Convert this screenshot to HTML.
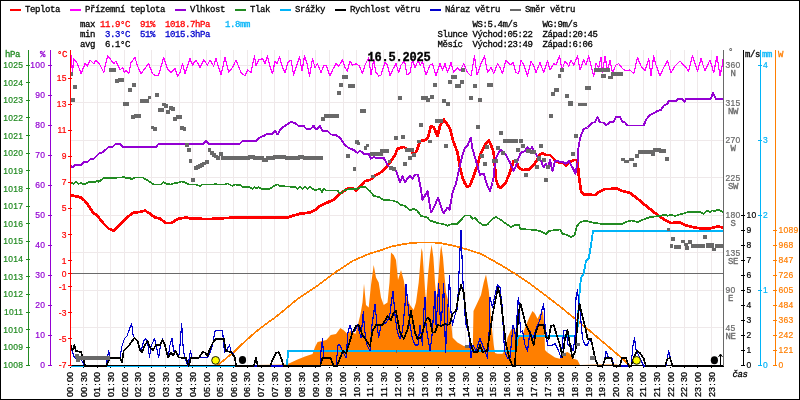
<!DOCTYPE html>
<html><head><meta charset="utf-8"><title>graf</title>
<style>html,body{margin:0;padding:0;background:#fff}svg{display:block}text{font-family:"Liberation Mono",monospace}</style></head>
<body>
<svg width="800" height="400" viewBox="0 0 800 400">
<rect x="0" y="0" width="800" height="400" fill="#fff"/>
<rect x="0.5" y="0.5" width="799" height="399" fill="none" stroke="#000" stroke-width="1" shape-rendering="crispEdges"/>
<g stroke="#efe9ea" stroke-width="1" shape-rendering="crispEdges">
<line x1="83.5" y1="50" x2="83.5" y2="365"/>
<line x1="97.5" y1="50" x2="97.5" y2="365"/>
<line x1="110.5" y1="50" x2="110.5" y2="365"/>
<line x1="124.5" y1="50" x2="124.5" y2="365"/>
<line x1="138.5" y1="50" x2="138.5" y2="365"/>
<line x1="151.5" y1="50" x2="151.5" y2="365"/>
<line x1="165.5" y1="50" x2="165.5" y2="365"/>
<line x1="179.5" y1="50" x2="179.5" y2="365"/>
<line x1="192.5" y1="50" x2="192.5" y2="365"/>
<line x1="206.5" y1="50" x2="206.5" y2="365"/>
<line x1="220.5" y1="50" x2="220.5" y2="365"/>
<line x1="233.5" y1="50" x2="233.5" y2="365"/>
<line x1="247.5" y1="50" x2="247.5" y2="365"/>
<line x1="261.5" y1="50" x2="261.5" y2="365"/>
<line x1="274.5" y1="50" x2="274.5" y2="365"/>
<line x1="288.5" y1="50" x2="288.5" y2="365"/>
<line x1="302.5" y1="50" x2="302.5" y2="365"/>
<line x1="315.5" y1="50" x2="315.5" y2="365"/>
<line x1="329.5" y1="50" x2="329.5" y2="365"/>
<line x1="343.5" y1="50" x2="343.5" y2="365"/>
<line x1="356.5" y1="50" x2="356.5" y2="365"/>
<line x1="370.5" y1="50" x2="370.5" y2="365"/>
<line x1="383.5" y1="50" x2="383.5" y2="365"/>
<line x1="397.5" y1="50" x2="397.5" y2="365"/>
<line x1="411.5" y1="50" x2="411.5" y2="365"/>
<line x1="424.5" y1="50" x2="424.5" y2="365"/>
<line x1="438.5" y1="50" x2="438.5" y2="365"/>
<line x1="452.5" y1="50" x2="452.5" y2="365"/>
<line x1="465.5" y1="50" x2="465.5" y2="365"/>
<line x1="479.5" y1="50" x2="479.5" y2="365"/>
<line x1="493.5" y1="50" x2="493.5" y2="365"/>
<line x1="506.5" y1="50" x2="506.5" y2="365"/>
<line x1="520.5" y1="50" x2="520.5" y2="365"/>
<line x1="534.5" y1="50" x2="534.5" y2="365"/>
<line x1="547.5" y1="50" x2="547.5" y2="365"/>
<line x1="561.5" y1="50" x2="561.5" y2="365"/>
<line x1="575.5" y1="50" x2="575.5" y2="365"/>
<line x1="588.5" y1="50" x2="588.5" y2="365"/>
<line x1="602.5" y1="50" x2="602.5" y2="365"/>
<line x1="616.5" y1="50" x2="616.5" y2="365"/>
<line x1="629.5" y1="50" x2="629.5" y2="365"/>
<line x1="643.5" y1="50" x2="643.5" y2="365"/>
<line x1="656.5" y1="50" x2="656.5" y2="365"/>
<line x1="670.5" y1="50" x2="670.5" y2="365"/>
<line x1="684.5" y1="50" x2="684.5" y2="365"/>
<line x1="697.5" y1="50" x2="697.5" y2="365"/>
<line x1="711.5" y1="50" x2="711.5" y2="365"/>
<line x1="71" y1="365.5" x2="723" y2="365.5"/>
<line x1="71" y1="327.5" x2="723" y2="327.5"/>
<line x1="71" y1="290.5" x2="723" y2="290.5"/>
<line x1="71" y1="252.5" x2="723" y2="252.5"/>
<line x1="71" y1="215.5" x2="723" y2="215.5"/>
<line x1="71" y1="177.5" x2="723" y2="177.5"/>
<line x1="71" y1="140.5" x2="723" y2="140.5"/>
<line x1="71" y1="102.5" x2="723" y2="102.5"/>
<line x1="71" y1="65.5" x2="723" y2="65.5"/>
</g>
<line x1="71" y1="273.5" x2="723" y2="273.5" stroke="#6a6a6a" stroke-width="1" shape-rendering="crispEdges"/>
<polygon points="247.5,365.0 286.0,364.5 290.0,363.0 297.5,359.5 305.0,356.5 312.5,354.0 315.0,347.0 317.6,342.0 322.0,341.0 326.4,340.0 330.8,335.0 336.0,334.0 340.4,328.0 344.0,330.6 347.4,334.0 351.0,330.6 355.3,334.0 358.0,324.5 360.5,314.0 362.5,302.5 364.0,283.7 366.0,305.0 368.7,307.5 371.0,285.0 373.7,265.0 376.0,277.5 378.7,282.5 381.0,297.5 383.7,305.0 387.5,302.5 389.5,282.5 391.0,252.5 393.7,255.0 396.0,260.0 398.0,280.0 401.0,270.0 403.7,280.0 406.0,295.0 410.0,305.0 413.7,310.0 416.0,302.5 418.7,282.5 421.5,248.0 422.5,252.0 424.0,275.0 426.0,303.0 428.0,275.0 430.0,255.0 431.6,244.4 433.4,257.5 435.1,283.7 436.4,297.7 438.6,275.0 440.4,250.5 441.3,245.3 443.0,257.5 444.5,276.0 446.0,292.5 448.7,302.5 451.0,320.0 452.5,337.5 457.5,342.5 463.7,346.0 472.8,347.0 473.5,311.0 477.5,302.5 481.0,295.0 483.7,282.5 486.0,274.5 488.7,290.0 490.0,302.5 491.0,320.0 493.7,345.0 495.0,353.0 497.5,353.7 502.5,353.7 505.0,350.0 507.5,337.5 511.0,330.0 513.7,326.0 516.0,332.5 518.7,337.5 522.5,335.0 526.0,325.0 530.0,316.0 532.5,311.0 535.0,313.7 537.5,318.7 540.0,314.0 543.0,311.0 544.5,330.0 545.0,350.0 547.5,352.5 555.0,357.5 560.0,358.7 562.5,353.7 567.5,352.0 570.0,353.7 573.7,358.7 577.5,360.0 580.0,365.0 600.0,364.5 617.0,364.5 618.0,365.5 618.0,365.5 247.5,365.5" fill="#ff7f00"/>
<polyline points="217.5,365.5 235.0,351.0 240.0,346.0 245.0,341.5 255.0,332.5 260.0,328.5 270.0,321.0 272.5,319.5 285.0,309.5 297.5,299.0 300.0,297.5 315.0,287.5 335.0,272.5 352.5,261.0 370.0,253.5 380.0,250.5 390.5,246.8 401.0,244.6 411.5,243.0 422.0,242.4 432.5,242.4 441.3,243.2 450.0,245.0 458.8,247.0 467.5,249.6 480.0,253.5 487.5,257.5 500.0,264.5 515.0,273.7 530.0,283.7 545.0,295.0 560.0,306.5 575.0,318.7 590.0,331.0 600.0,339.5 610.0,348.0 620.0,356.5 630.0,365.5" fill="none" stroke="#ff7f00" stroke-width="1.7" shape-rendering="crispEdges"/>
<g fill="#000" shape-rendering="crispEdges">
<rect x="70" y="367" width="1" height="1"/>
<rect x="83" y="367" width="1" height="1"/>
<rect x="97" y="367" width="1" height="1"/>
<rect x="110" y="367" width="1" height="1"/>
<rect x="124" y="367" width="1" height="1"/>
<rect x="138" y="367" width="1" height="1"/>
<rect x="151" y="367" width="1" height="1"/>
<rect x="165" y="367" width="1" height="1"/>
<rect x="179" y="367" width="1" height="1"/>
<rect x="192" y="367" width="1" height="1"/>
<rect x="206" y="367" width="1" height="1"/>
<rect x="220" y="367" width="1" height="1"/>
<rect x="233" y="367" width="1" height="1"/>
<rect x="247" y="367" width="1" height="1"/>
<rect x="261" y="367" width="1" height="1"/>
<rect x="274" y="367" width="1" height="1"/>
<rect x="288" y="367" width="1" height="1"/>
<rect x="302" y="367" width="1" height="1"/>
<rect x="315" y="367" width="1" height="1"/>
<rect x="329" y="367" width="1" height="1"/>
<rect x="343" y="367" width="1" height="1"/>
<rect x="356" y="367" width="1" height="1"/>
<rect x="370" y="367" width="1" height="1"/>
<rect x="383" y="367" width="1" height="1"/>
<rect x="397" y="367" width="1" height="1"/>
<rect x="411" y="367" width="1" height="1"/>
<rect x="424" y="367" width="1" height="1"/>
<rect x="438" y="367" width="1" height="1"/>
<rect x="452" y="367" width="1" height="1"/>
<rect x="465" y="367" width="1" height="1"/>
<rect x="479" y="367" width="1" height="1"/>
<rect x="493" y="367" width="1" height="1"/>
<rect x="506" y="367" width="1" height="1"/>
<rect x="520" y="367" width="1" height="1"/>
<rect x="534" y="367" width="1" height="1"/>
<rect x="547" y="367" width="1" height="1"/>
<rect x="561" y="367" width="1" height="1"/>
<rect x="575" y="367" width="1" height="1"/>
<rect x="588" y="367" width="1" height="1"/>
<rect x="602" y="367" width="1" height="1"/>
<rect x="616" y="367" width="1" height="1"/>
<rect x="629" y="367" width="1" height="1"/>
<rect x="643" y="367" width="1" height="1"/>
<rect x="656" y="367" width="1" height="1"/>
<rect x="670" y="367" width="1" height="1"/>
<rect x="684" y="367" width="1" height="1"/>
<rect x="697" y="367" width="1" height="1"/>
<rect x="711" y="367" width="1" height="1"/>
</g>
<polyline points="70.5,195.5 75.0,196.0 81.0,197.5 85.0,201.0 88.7,206.0 92.5,212.0 97.5,216.0 103.7,223.7 108.7,228.7 113.7,230.5 118.7,226.0 123.7,220.5 127.5,217.0 133.7,212.5 140.0,212.0 145.0,210.5 150.0,213.7 155.0,217.5 160.0,218.7 166.0,223.0 171.0,223.0 178.7,218.7 186.0,217.5 192.5,218.7 210.0,219.0 235.0,217.5 287.5,217.5 293.7,215.5 300.0,213.7 310.0,212.5 315.0,210.0 320.0,206.0 327.5,202.5 333.7,199.5 338.7,194.5 342.5,192.0 347.5,188.7 353.7,188.7 356.0,191.0 358.7,188.0 365.0,181.0 370.0,180.0 375.0,175.5 380.0,173.0 386.0,167.5 391.0,161.0 395.0,155.0 397.5,148.7 403.7,147.0 407.5,149.5 411.0,150.0 413.7,156.0 417.5,148.7 420.0,141.0 426.0,140.0 428.0,137.0 431.0,126.0 433.7,127.5 437.5,136.0 440.0,126.0 443.7,119.5 446.0,122.5 450.0,128.7 452.5,138.7 453.7,142.5 457.5,152.5 460.0,167.5 462.5,177.5 465.0,183.7 467.5,187.0 470.0,185.5 473.7,176.0 477.5,165.0 481.0,152.5 485.0,145.0 488.7,140.5 491.0,145.0 493.7,152.5 495.0,167.5 496.0,180.0 498.7,187.0 501.0,187.5 505.0,183.7 508.7,176.0 511.0,168.7 513.7,161.0 516.0,160.0 518.7,167.5 522.5,170.0 528.7,169.5 533.7,165.0 537.5,159.5 540.0,154.5 542.5,153.0 546.0,155.0 550.0,155.0 553.7,158.7 556.0,162.0 562.5,162.5 566.0,166.0 568.7,162.5 573.7,160.0 577.5,160.0 578.7,175.0 581.0,191.0 583.7,194.5 595.0,195.0 598.7,192.0 605.0,189.0 617.5,188.7 622.5,191.0 630.0,193.0 637.5,198.7 645.0,205.0 652.5,211.0 658.7,216.0 665.0,220.0 671.0,223.0 680.0,222.5 686.0,225.5 695.0,227.5 702.5,228.7 710.0,228.5 717.5,226.5 723.0,227.5" fill="none" stroke="#ff0000" stroke-width="2.7" stroke-linejoin="round" shape-rendering="crispEdges"/>
<polyline points="70.5,52.0 71.0,56.0 72.5,72.5 73.7,58.7 77.5,63.7 81.0,73.7 85.0,63.7 87.5,66.0 90.0,60.0 93.7,63.7 96.0,60.0 100.0,65.0 103.7,72.5 107.5,56.0 110.0,58.7 113.7,63.7 116.0,61.0 120.0,70.0 122.5,67.5 124.5,72.5 126.0,70.0 128.7,73.7 131.0,62.5 135.0,57.5 137.5,66.0 141.0,73.7 143.7,70.0 148.7,63.7 152.5,73.7 156.0,76.0 158.7,75.0 163.7,57.5 167.5,68.7 171.0,72.5 175.0,68.7 177.5,76.0 180.0,72.5 182.5,63.7 185.0,73.7 190.0,58.7 192.5,65.0 196.0,60.0 200.0,67.5 203.7,60.0 207.5,65.0 210.0,60.0 213.7,66.0 216.0,58.7 221.0,75.0 225.0,57.5 228.7,72.5 232.5,67.5 236.0,60.0 241.0,72.5 245.0,76.0 247.5,70.0 251.0,72.5 254.5,56.0 256.0,66.0 258.7,60.0 262.5,58.7 265.0,63.7 267.5,56.0 269.5,65.0 272.5,73.7 275.0,61.0 277.0,63.7 279.5,57.0 282.5,67.5 285.0,72.5 288.0,62.5 291.0,60.0 293.7,75.0 296.0,67.5 299.5,57.0 302.0,71.0 304.5,56.0 307.0,63.7 309.5,76.0 312.5,58.7 315.0,67.5 317.5,63.7 321.0,72.5 323.7,66.0 326.0,65.0 330.0,76.0 332.5,70.0 336.0,63.7 338.7,66.0 342.5,60.0 345.0,67.5 347.5,71.0 350.0,61.0 352.5,65.0 356.0,63.7 359.5,66.0 362.5,73.7 365.0,65.0 368.7,57.5 371.0,75.0 373.7,60.0 376.0,72.5 378.7,76.0 381.0,75.0 385.0,62.5 387.5,65.0 390.0,76.0 392.5,70.0 396.0,63.7 398.7,72.5 401.0,65.0 404.5,61.0 407.0,75.0 410.0,72.5 412.5,60.0 415.0,67.5 418.0,61.0 420.5,65.0 422.5,61.0 426.0,75.0 430.0,65.0 432.5,63.7 436.0,76.0 440.0,63.7 442.5,70.0 445.0,63.7 447.5,72.5 451.0,62.5 453.7,72.5 457.5,67.5 460.0,71.0 463.7,63.7 467.5,72.5 471.0,76.0 474.5,56.0 477.0,75.0 481.0,63.7 484.5,56.0 487.5,72.5 491.0,67.5 493.7,73.7 497.5,63.7 500.0,67.5 502.5,73.7 506.0,60.0 510.0,65.0 513.0,62.5 516.0,72.5 518.7,73.7 521.0,60.0 523.7,65.0 527.5,76.0 531.0,61.0 533.7,66.0 536.0,72.5 540.0,62.5 543.7,72.5 547.5,61.0 550.0,70.0 553.7,63.7 556.0,65.0 559.5,56.0 562.0,70.0 565.0,61.0 568.7,66.0 571.0,60.0 573.7,65.0 577.5,56.0 580.0,70.0 583.7,60.0 586.0,65.0 588.7,56.0 593.7,76.0 596.0,63.7 598.7,67.5 601.0,57.5 602.5,72.5 605.0,56.0 607.5,71.0 610.0,60.0 612.5,72.5 616.0,65.0 618.7,63.7 622.5,68.7 626.0,71.0 630.0,70.0 633.7,73.7 637.5,57.5 641.0,66.0 645.0,71.0 648.7,58.7 651.0,76.0 653.7,56.0 656.0,65.0 660.0,76.0 663.7,67.5 667.5,61.0 671.0,72.5 675.0,66.0 680.0,61.0 683.7,65.0 688.7,71.0 692.5,56.0 697.5,71.0 701.0,58.7 705.0,71.0 710.0,60.0 713.7,72.5 717.0,56.0 720.0,76.0 722.5,63.7 723.5,56.0" fill="none" stroke="#ff00ff" stroke-width="1.2" stroke-linejoin="round" shape-rendering="crispEdges"/>
<polyline points="70.5,165.0 72.5,167.5 75.0,165.0 81.0,165.0 83.7,162.0 87.5,162.0 91.0,158.7 93.7,158.7 98.7,153.7 102.5,152.5 108.7,147.0 112.5,147.0 116.0,143.7 120.0,143.7 122.5,147.0 156.0,147.0 158.7,143.7 203.7,143.7 206.0,141.0 208.7,143.7 240.0,143.7 242.5,141.0 256.0,141.0 258.7,138.0 263.7,136.0 266.0,134.5 272.5,133.7 275.0,131.0 277.5,134.5 281.0,128.7 286.0,125.0 291.0,122.0 295.0,123.0 298.7,126.0 303.7,126.0 306.0,128.7 311.0,128.7 313.7,125.5 315.0,128.7 317.5,128.7 320.0,125.5 322.5,131.0 327.5,131.0 331.0,134.5 336.0,135.0 340.0,138.0 345.0,145.0 348.7,148.0 353.7,150.0 357.5,153.0 360.0,150.5 363.7,153.7 368.7,153.7 371.0,158.7 373.7,157.0 376.0,158.0 383.7,158.0 387.5,165.0 390.0,167.5 393.7,170.0 396.0,171.0 400.0,182.5 402.5,176.0 405.0,182.5 407.5,178.7 410.0,176.0 412.5,178.7 415.0,174.5 418.0,174.5 420.0,184.0 422.5,200.0 427.5,191.0 431.0,212.5 435.0,205.0 438.0,197.5 442.5,211.0 444.0,213.0 447.5,207.5 449.5,210.0 452.5,192.5 456.0,183.7 458.7,171.0 462.5,155.0 465.0,147.5 467.5,146.0 470.7,137.5 472.5,148.7 476.0,161.0 480.0,175.0 483.7,173.7 487.0,185.0 490.0,191.0 492.5,182.5 494.0,175.0 495.0,160.0 498.7,152.5 501.0,149.5 506.0,155.0 510.0,162.5 513.7,171.0 516.0,166.0 518.7,157.5 521.0,152.5 525.0,151.0 527.5,147.0 530.0,150.0 532.0,147.0 535.0,152.5 538.7,158.7 541.0,161.0 543.7,167.5 546.0,163.7 548.0,167.5 550.0,160.0 552.5,171.0 555.0,161.0 562.5,162.0 566.0,163.7 568.7,161.0 572.5,167.5 575.5,173.7 577.5,162.5 578.7,145.0 581.0,135.0 583.7,129.0 587.5,127.5 592.5,122.5 595.0,122.5 597.5,117.0 600.0,122.5 603.7,122.5 606.0,125.5 610.0,122.0 613.7,122.0 616.0,117.0 620.0,117.0 622.5,122.0 625.0,122.5 627.5,125.5 643.7,125.5 646.0,120.0 648.7,116.0 652.5,113.7 657.5,111.0 661.0,110.0 663.7,105.5 667.5,103.7 668.7,101.0 676.0,101.0 678.7,98.7 682.5,98.7 684.5,102.0 686.0,99.0 711.0,98.7 713.0,93.0 716.0,98.7 723.0,99.0" fill="none" stroke="#9400d3" stroke-width="1.9" stroke-linejoin="round" shape-rendering="crispEdges"/>
<polyline points="70.5,182.5 73.7,183.7 76.0,182.0 78.7,183.7 81.0,183.0 83.7,184.5 88.7,182.0 95.0,182.0 97.5,180.5 98.7,182.0 103.7,178.0 122.5,177.5 123.7,176.7 126.0,178.0 130.0,178.0 131.7,179.5 135.0,177.5 142.5,177.5 146.0,179.5 153.7,184.5 161.0,184.5 163.7,182.0 166.0,183.7 171.0,184.5 175.0,183.0 177.5,183.0 181.0,181.5 183.7,182.0 188.7,184.5 196.0,184.5 200.0,186.0 202.5,184.5 213.7,184.5 215.0,183.5 217.5,184.5 225.0,184.5 227.5,183.5 232.5,186.0 235.0,184.5 240.0,185.0 242.5,187.0 248.7,187.0 252.5,188.7 254.5,187.0 256.0,188.7 258.7,187.0 261.0,188.7 270.0,188.7 273.7,186.0 277.5,184.5 280.0,186.0 295.0,187.0 297.5,188.7 300.0,187.0 302.5,188.7 305.0,187.0 307.5,188.7 310.0,187.0 315.0,190.5 320.0,188.7 322.0,192.0 323.7,188.7 326.0,190.5 337.5,190.5 340.0,193.7 345.0,190.0 351.0,188.7 357.5,188.7 361.0,187.0 365.0,187.0 370.0,191.0 373.7,196.0 378.7,197.0 383.7,200.0 392.5,200.5 397.5,202.0 400.0,204.5 405.0,206.0 410.0,210.5 413.7,208.7 417.5,211.0 421.0,216.0 427.5,217.5 430.0,220.5 437.5,223.0 445.0,224.5 447.5,226.0 450.0,224.5 457.5,223.7 461.0,220.0 465.0,215.5 470.0,215.5 472.5,218.7 475.0,218.0 478.7,222.0 483.7,225.5 487.5,224.5 492.5,218.7 496.0,217.0 501.0,220.0 506.0,223.7 511.0,227.0 515.0,225.0 518.7,224.5 520.5,229.0 536.0,230.0 542.5,232.0 546.0,234.5 548.7,231.0 555.0,230.0 560.0,229.5 562.5,233.7 567.5,235.0 571.0,237.0 574.5,235.0 577.0,226.0 580.0,222.5 585.0,220.5 592.5,222.5 600.0,223.7 622.5,223.7 626.0,222.0 631.0,220.5 637.5,222.0 643.7,219.5 650.0,217.0 660.0,216.0 665.0,214.5 667.5,216.0 671.0,214.5 675.0,216.0 682.5,213.7 688.7,212.0 700.0,212.0 703.7,213.7 707.5,210.5 710.0,212.0 712.5,210.5 715.0,211.0 718.0,209.5 723.0,212.0" fill="none" stroke="#228b22" stroke-width="1.7" stroke-linejoin="round" shape-rendering="crispEdges"/>
<polyline points="70.5,366.0 287.0,366.0 288.0,351.0 514.0,351.0 516.0,350.0 518.0,336.0 576.0,336.0 578.0,325.0 578.7,302.5 581.0,277.5 583.7,273.7 586.0,261.0 588.7,258.7 591.0,245.0 593.0,231.0 723.0,231.0" fill="none" stroke="#00b4f8" stroke-width="1.9" stroke-linejoin="round" shape-rendering="crispEdges"/>
<line x1="70" y1="365.5" x2="724" y2="365.5" stroke="#000" stroke-width="1" shape-rendering="crispEdges"/>
<polyline points="70.5,345.0 73.7,356.0 76.0,358.7 80.0,358.0 85.0,366.0 106.0,366.0 108.7,351.0 110.0,358.0 120.0,358.0 122.0,346.0 124.5,338.7 127.0,336.0 130.0,327.5 131.7,323.7 133.0,335.0 134.5,338.0 137.5,341.0 141.0,351.0 143.7,341.0 145.5,338.7 147.5,341.0 149.5,357.5 151.0,346.0 154.5,338.7 156.0,345.0 158.7,357.5 160.5,345.0 162.5,338.7 164.5,344.5 168.0,357.5 170.0,345.0 172.0,338.7 173.7,351.0 175.5,351.0 178.7,357.5 180.0,345.0 181.7,323.7 183.0,345.0 184.5,357.5 188.0,366.0 190.5,351.0 192.0,357.5 207.5,357.5 210.0,352.5 212.5,345.0 215.0,331.0 222.5,330.5 224.5,352.5 226.0,351.0 229.5,345.0 231.0,351.0 233.7,353.7 236.0,366.0 320.0,366.0 321.0,351.0 322.5,338.7 323.7,357.5 331.0,358.0 333.7,366.0 336.0,366.0 338.0,345.0 340.0,345.0 342.5,351.0 346.0,358.0 348.0,332.5 350.0,325.0 352.0,332.5 355.0,331.0 357.5,325.0 361.0,337.5 362.5,320.0 363.3,311.5 364.2,325.0 365.5,337.5 367.0,345.0 370.0,351.0 372.0,325.0 375.0,304.0 377.0,325.0 378.7,337.5 381.0,325.0 385.0,323.7 389.5,317.5 391.0,305.0 393.0,291.0 395.0,315.0 397.5,332.5 400.0,338.7 402.5,331.0 405.0,305.0 406.0,284.5 408.0,305.0 410.0,325.0 412.5,338.7 415.0,345.0 418.0,345.0 420.0,325.0 422.5,345.0 423.7,312.5 425.0,297.5 426.0,325.0 428.0,338.7 430.0,351.0 431.7,338.7 433.7,312.5 435.0,291.0 436.0,325.0 437.5,305.0 438.7,283.7 440.5,325.0 442.0,312.5 443.7,283.7 445.5,352.5 447.0,325.0 449.5,276.0 451.0,312.5 452.5,325.0 455.0,315.0 457.5,308.0 460.0,250.0 461.0,230.0 463.0,282.5 465.0,315.0 466.0,325.0 468.7,332.5 471.0,358.0 473.0,345.0 476.0,351.0 480.0,338.7 482.5,345.0 485.0,351.0 487.5,358.0 489.5,325.0 490.0,297.5 492.5,307.5 495.0,295.0 497.5,284.5 500.0,287.5 502.0,305.0 504.5,351.0 507.5,358.0 510.0,358.0 513.0,325.0 515.0,332.5 516.0,350.0 517.5,302.5 518.7,297.5 520.5,332.5 522.5,331.0 525.0,345.0 527.5,351.0 530.0,331.0 532.5,338.7 535.0,332.5 537.5,325.0 540.0,320.0 542.5,307.5 543.7,303.7 545.0,325.0 547.5,345.0 551.0,346.0 555.0,343.7 558.7,351.0 561.0,358.0 563.7,331.0 566.0,330.0 568.0,345.0 571.0,345.0 573.0,351.0 575.0,338.7 576.0,297.5 577.5,290.0 578.7,302.5 580.0,310.0 582.5,338.7 585.0,345.0 587.5,345.0 590.0,338.7 592.5,345.0 595.0,358.0 598.0,366.0 603.0,366.0 605.0,358.0 606.0,351.0 608.7,358.0 612.0,358.0 613.7,366.0 631.0,366.0 633.0,345.0 634.5,338.0 636.0,350.0 640.0,358.0 643.7,366.0 666.0,366.0 668.7,351.0 671.0,360.0 672.5,366.0" fill="none" stroke="#0000cd" stroke-width="1.15" stroke-linejoin="round" shape-rendering="crispEdges"/>
<polyline points="70.5,345.0 72.5,350.0 74.5,345.0 76.0,351.0 81.0,352.0 83.0,357.5 85.0,366.0 106.0,366.0 110.0,358.0 120.0,358.0 122.0,362.0 123.7,351.0 128.7,346.0 131.0,342.5 134.5,338.0 137.5,341.0 140.0,350.0 142.0,352.0 145.0,345.0 147.5,341.0 150.0,347.5 153.0,350.0 156.0,345.0 160.0,345.0 162.5,340.0 165.0,345.0 168.0,357.5 171.0,352.5 173.0,355.5 175.5,351.0 178.7,357.5 186.0,358.0 188.7,366.0 191.0,358.0 198.7,358.0 202.5,352.0 205.0,352.5 207.5,356.0 210.0,348.7 213.0,342.5 216.0,338.7 223.7,338.7 226.0,351.0 231.0,352.0 235.0,357.5 236.0,366.0 253.7,366.0 256.0,358.0 258.0,366.0 270.0,366.0 272.5,360.0 276.0,353.0 278.7,352.0 281.0,357.5 283.7,366.0 320.0,366.0 322.5,358.0 330.5,358.0 333.7,366.0 337.0,366.0 340.0,358.0 343.0,351.0 346.0,353.7 348.7,345.0 352.5,332.5 356.0,326.0 358.7,325.0 362.5,335.0 366.0,340.0 370.0,346.0 372.5,331.0 376.0,325.0 382.5,325.0 387.5,316.0 391.0,320.0 393.7,312.5 396.0,311.0 400.0,332.5 403.7,338.7 407.5,330.0 411.0,311.0 415.0,332.5 417.5,338.7 421.0,337.5 422.5,332.5 425.0,322.5 427.5,317.5 430.0,320.0 432.5,332.5 435.0,332.5 437.5,325.0 441.0,326.0 445.0,323.7 447.5,325.0 450.0,323.7 452.5,313.7 456.0,311.0 458.7,295.0 461.0,285.0 463.7,292.5 466.0,315.0 468.7,332.5 471.0,345.0 473.7,352.0 477.5,352.0 480.0,345.0 482.5,352.0 487.0,351.0 490.0,332.5 492.5,315.0 495.0,302.5 498.0,287.5 500.5,297.5 503.7,325.0 506.0,345.0 510.0,360.0 512.5,366.0 515.0,366.0 516.0,345.0 518.7,312.5 520.5,303.7 523.0,313.7 526.0,325.0 530.0,332.5 533.7,345.0 536.0,331.0 538.7,325.0 543.7,325.0 546.0,337.5 548.7,338.7 551.0,326.0 553.7,325.0 557.5,337.5 560.0,345.0 562.5,357.5 565.0,338.7 567.5,330.0 570.0,345.0 572.5,358.0 575.5,351.0 577.5,320.0 579.5,303.7 582.0,315.0 585.0,326.0 587.5,338.7 591.0,338.7 595.0,358.0 598.0,366.0 602.5,366.0 605.5,358.0 611.0,358.0 613.7,366.0 620.0,366.0 622.0,358.0 626.0,358.0 628.7,366.0 631.0,366.0 633.7,358.0 637.0,351.0 640.0,353.0 643.7,358.7 646.0,366.0 665.0,366.0 667.5,358.7 670.0,358.0 672.5,366.0 723.5,366.0" fill="none" stroke="#000" stroke-width="1.7" stroke-linejoin="round" shape-rendering="crispEdges"/>
<g fill="#696969" shape-rendering="crispEdges">
<rect x="70.5" y="72.0" width="2.5" height="4.0"/>
<rect x="73.0" y="85.0" width="4.0" height="4.0"/>
<rect x="70.5" y="98.0" width="4.0" height="4.0"/>
<rect x="109.0" y="68.0" width="6.5" height="4.0"/>
<rect x="114.5" y="79.0" width="4.5" height="3.5"/>
<rect x="118.0" y="78.0" width="6.0" height="3.5"/>
<rect x="128.0" y="88.0" width="4.0" height="4.0"/>
<rect x="132.0" y="83.0" width="4.0" height="4.0"/>
<rect x="123.0" y="102.0" width="6.0" height="3.5"/>
<rect x="130.5" y="115.0" width="4.5" height="3.5"/>
<rect x="134.0" y="114.0" width="6.5" height="3.5"/>
<rect x="139.5" y="99.0" width="9.5" height="3.5"/>
<rect x="148.0" y="95.5" width="3.0" height="3.5"/>
<rect x="155.0" y="93.0" width="4.0" height="4.0"/>
<rect x="150.5" y="125.5" width="3.5" height="3.5"/>
<rect x="153.0" y="127.0" width="4.0" height="3.5"/>
<rect x="157.5" y="108.0" width="6.5" height="4.0"/>
<rect x="162.0" y="102.5" width="4.0" height="3.5"/>
<rect x="164.0" y="104.0" width="3.5" height="3.5"/>
<rect x="166.0" y="110.0" width="4.0" height="4.0"/>
<rect x="169.0" y="106.0" width="3.5" height="3.5"/>
<rect x="171.0" y="107.0" width="3.5" height="3.5"/>
<rect x="173.0" y="117.0" width="4.0" height="3.5"/>
<rect x="176.0" y="115.0" width="6.0" height="4.0"/>
<rect x="180.0" y="126.0" width="4.0" height="3.5"/>
<rect x="182.5" y="127.0" width="3.5" height="3.5"/>
<rect x="185.0" y="143.0" width="3.7" height="4.0"/>
<rect x="187.0" y="148.0" width="3.5" height="4.0"/>
<rect x="188.7" y="158.7" width="3.3" height="3.8"/>
<rect x="191.0" y="178.0" width="4.0" height="3.7"/>
<rect x="194.0" y="166.0" width="3.5" height="4.0"/>
<rect x="196.0" y="165.0" width="3.5" height="3.5"/>
<rect x="198.0" y="164.0" width="3.5" height="3.5"/>
<rect x="200.0" y="163.0" width="3.5" height="3.5"/>
<rect x="202.0" y="161.5" width="3.5" height="3.5"/>
<rect x="205.0" y="160.0" width="3.7" height="3.7"/>
<rect x="207.5" y="148.0" width="3.5" height="4.0"/>
<rect x="210.0" y="151.0" width="3.5" height="3.5"/>
<rect x="212.0" y="153.0" width="3.5" height="3.5"/>
<rect x="214.0" y="154.5" width="3.5" height="3.5"/>
<rect x="216.0" y="156.0" width="4.0" height="3.5"/>
<rect x="218.7" y="152.0" width="3.8" height="3.7"/>
<rect x="221.0" y="156.2" width="4.0" height="4.0"/>
<rect x="223.3" y="156.2" width="4.0" height="4.0"/>
<rect x="225.5" y="156.2" width="4.0" height="4.0"/>
<rect x="227.8" y="156.2" width="4.0" height="4.0"/>
<rect x="230.1" y="156.2" width="4.0" height="4.0"/>
<rect x="232.4" y="156.2" width="4.0" height="4.0"/>
<rect x="234.6" y="156.2" width="4.0" height="4.0"/>
<rect x="236.9" y="156.2" width="4.0" height="4.0"/>
<rect x="239.2" y="156.2" width="4.0" height="4.0"/>
<rect x="241.4" y="156.4" width="4.0" height="4.0"/>
<rect x="243.7" y="156.4" width="4.0" height="4.0"/>
<rect x="246.0" y="156.4" width="4.0" height="4.0"/>
<rect x="248.2" y="155.2" width="4.0" height="4.0"/>
<rect x="250.5" y="155.2" width="4.0" height="4.0"/>
<rect x="252.8" y="156.4" width="4.0" height="4.0"/>
<rect x="255.1" y="156.4" width="4.0" height="4.0"/>
<rect x="257.3" y="156.4" width="4.0" height="4.0"/>
<rect x="259.6" y="156.4" width="4.0" height="4.0"/>
<rect x="261.9" y="157.6" width="4.0" height="4.0"/>
<rect x="264.1" y="157.6" width="4.0" height="4.0"/>
<rect x="266.4" y="156.2" width="4.0" height="4.0"/>
<rect x="268.7" y="156.2" width="4.0" height="4.0"/>
<rect x="270.9" y="156.2" width="4.0" height="4.0"/>
<rect x="273.2" y="155.0" width="4.0" height="4.0"/>
<rect x="275.5" y="155.0" width="4.0" height="4.0"/>
<rect x="277.8" y="155.0" width="4.0" height="4.0"/>
<rect x="280.0" y="155.0" width="4.0" height="4.0"/>
<rect x="282.3" y="155.0" width="4.0" height="4.0"/>
<rect x="284.6" y="156.0" width="4.0" height="4.0"/>
<rect x="286.8" y="156.0" width="4.0" height="4.0"/>
<rect x="289.1" y="156.0" width="4.0" height="4.0"/>
<rect x="291.4" y="156.0" width="4.0" height="4.0"/>
<rect x="293.6" y="156.0" width="4.0" height="4.0"/>
<rect x="295.9" y="156.0" width="4.0" height="4.0"/>
<rect x="298.2" y="155.0" width="4.0" height="4.0"/>
<rect x="300.4" y="155.0" width="4.0" height="4.0"/>
<rect x="302.7" y="156.0" width="4.0" height="4.0"/>
<rect x="305.0" y="156.0" width="4.0" height="4.0"/>
<rect x="307.3" y="156.0" width="4.0" height="4.0"/>
<rect x="309.5" y="156.0" width="4.0" height="4.0"/>
<rect x="311.8" y="156.0" width="4.0" height="4.0"/>
<rect x="314.1" y="156.0" width="4.0" height="4.0"/>
<rect x="316.3" y="156.0" width="4.0" height="4.0"/>
<rect x="318.6" y="156.0" width="4.0" height="4.0"/>
<rect x="346.0" y="153.7" width="4.0" height="3.8"/>
<rect x="352.5" y="167.0" width="3.5" height="3.5"/>
<rect x="355.0" y="140.0" width="3.5" height="3.5"/>
<rect x="357.0" y="141.5" width="3.0" height="3.0"/>
<rect x="363.7" y="146.0" width="3.3" height="3.5"/>
<rect x="365.5" y="143.7" width="3.2" height="3.3"/>
<rect x="370.0" y="152.0" width="12.5" height="3.7"/>
<rect x="380.0" y="148.7" width="8.7" height="3.8"/>
<rect x="371.0" y="174.5" width="4.0" height="3.5"/>
<rect x="387.5" y="159.5" width="3.5" height="3.5"/>
<rect x="388.7" y="166.0" width="4.3" height="3.5"/>
<rect x="392.0" y="167.0" width="4.0" height="3.5"/>
<rect x="393.7" y="136.0" width="3.8" height="3.5"/>
<rect x="401.0" y="135.0" width="4.0" height="3.7"/>
<rect x="402.5" y="162.0" width="4.5" height="3.5"/>
<rect x="405.0" y="148.0" width="8.7" height="4.0"/>
<rect x="408.0" y="156.0" width="4.0" height="3.5"/>
<rect x="412.0" y="153.0" width="3.5" height="4.0"/>
<rect x="417.0" y="139.5" width="3.5" height="3.0"/>
<rect x="427.5" y="139.5" width="4.5" height="3.5"/>
<rect x="342.0" y="75.0" width="6.0" height="3.7"/>
<rect x="338.7" y="83.0" width="4.3" height="3.7"/>
<rect x="348.0" y="83.7" width="7.0" height="3.8"/>
<rect x="337.0" y="91.0" width="3.7" height="3.5"/>
<rect x="360.0" y="108.7" width="5.7" height="3.8"/>
<rect x="321.0" y="117.0" width="4.0" height="3.5"/>
<rect x="323.7" y="113.7" width="15.0" height="4.3"/>
<rect x="398.0" y="96.0" width="4.0" height="3.5"/>
<rect x="421.0" y="96.0" width="6.5" height="4.0"/>
<rect x="426.0" y="98.0" width="4.0" height="3.7"/>
<rect x="430.0" y="95.0" width="3.7" height="3.7"/>
<rect x="433.0" y="83.0" width="4.0" height="3.7"/>
<rect x="418.7" y="123.0" width="3.8" height="3.7"/>
<rect x="435.0" y="118.7" width="7.5" height="3.8"/>
<rect x="461.0" y="68.0" width="4.0" height="3.7"/>
<rect x="451.0" y="75.0" width="6.0" height="3.7"/>
<rect x="447.5" y="80.0" width="4.5" height="3.7"/>
<rect x="459.5" y="80.0" width="4.2" height="3.7"/>
<rect x="455.0" y="83.7" width="6.0" height="3.8"/>
<rect x="472.5" y="83.7" width="4.5" height="3.8"/>
<rect x="487.0" y="83.0" width="6.0" height="3.7"/>
<rect x="442.0" y="98.7" width="4.0" height="3.8"/>
<rect x="445.7" y="102.0" width="4.3" height="3.5"/>
<rect x="468.7" y="96.0" width="4.3" height="4.0"/>
<rect x="478.0" y="98.0" width="3.7" height="3.7"/>
<rect x="475.7" y="125.0" width="3.8" height="3.7"/>
<rect x="498.7" y="131.0" width="3.8" height="4.0"/>
<rect x="560.0" y="68.0" width="3.7" height="3.7"/>
<rect x="557.5" y="74.0" width="3.5" height="3.5"/>
<rect x="553.7" y="88.0" width="5.0" height="3.7"/>
<rect x="551.0" y="91.7" width="4.0" height="3.8"/>
<rect x="565.0" y="93.7" width="3.7" height="3.8"/>
<rect x="567.5" y="101.0" width="5.0" height="4.5"/>
<rect x="578.0" y="102.5" width="9.0" height="3.5"/>
<rect x="585.0" y="85.7" width="5.7" height="3.8"/>
<rect x="548.7" y="113.7" width="3.8" height="3.8"/>
<rect x="573.7" y="133.7" width="4.3" height="3.8"/>
<rect x="593.7" y="68.0" width="16.3" height="3.7"/>
<rect x="601.0" y="73.7" width="5.0" height="3.8"/>
<rect x="608.0" y="75.5" width="4.5" height="3.5"/>
<rect x="611.0" y="71.5" width="11.5" height="4.0"/>
<rect x="443.7" y="143.7" width="4.3" height="3.8"/>
<rect x="480.0" y="153.7" width="3.7" height="3.8"/>
<rect x="483.0" y="162.0" width="4.0" height="3.7"/>
<rect x="485.0" y="145.0" width="3.7" height="3.7"/>
<rect x="492.0" y="158.7" width="6.0" height="4.3"/>
<rect x="495.7" y="145.5" width="4.3" height="4.0"/>
<rect x="500.7" y="151.0" width="3.8" height="4.0"/>
<rect x="503.0" y="138.7" width="15.0" height="4.3"/>
<rect x="518.7" y="138.7" width="3.8" height="3.8"/>
<rect x="516.0" y="148.0" width="4.0" height="4.0"/>
<rect x="520.5" y="143.7" width="4.0" height="4.3"/>
<rect x="513.7" y="158.7" width="3.8" height="3.8"/>
<rect x="523.7" y="173.0" width="4.3" height="4.0"/>
<rect x="526.0" y="148.7" width="5.0" height="3.8"/>
<rect x="530.0" y="150.0" width="6.0" height="3.7"/>
<rect x="535.0" y="165.0" width="3.7" height="3.7"/>
<rect x="537.0" y="156.0" width="4.0" height="4.5"/>
<rect x="539.0" y="143.7" width="4.0" height="3.8"/>
<rect x="541.7" y="158.0" width="4.0" height="4.0"/>
<rect x="543.7" y="178.0" width="3.8" height="3.7"/>
<rect x="545.7" y="165.0" width="3.8" height="3.7"/>
<rect x="570.7" y="152.0" width="4.3" height="3.7"/>
<rect x="621.0" y="157.5" width="4.0" height="3.5"/>
<rect x="623.7" y="159.5" width="5.0" height="3.5"/>
<rect x="628.7" y="157.5" width="5.0" height="3.5"/>
<rect x="633.0" y="163.0" width="4.0" height="3.7"/>
<rect x="635.0" y="153.7" width="3.7" height="3.8"/>
<rect x="637.5" y="149.5" width="16.2" height="4.2"/>
<rect x="650.7" y="152.0" width="3.8" height="3.7"/>
<rect x="653.0" y="147.5" width="8.0" height="4.0"/>
<rect x="659.0" y="148.5" width="6.5" height="4.0"/>
<rect x="665.0" y="157.0" width="3.7" height="3.5"/>
<rect x="667.0" y="228.0" width="3.0" height="3.0"/>
<rect x="671.0" y="237.0" width="4.0" height="3.5"/>
<rect x="669.5" y="243.7" width="3.5" height="3.8"/>
<rect x="673.7" y="244.5" width="7.3" height="4.2"/>
<rect x="680.5" y="239.5" width="4.0" height="3.5"/>
<rect x="683.7" y="242.5" width="3.8" height="3.5"/>
<rect x="685.0" y="246.0" width="3.7" height="4.0"/>
<rect x="687.5" y="239.5" width="4.5" height="4.2"/>
<rect x="690.5" y="243.7" width="14.5" height="3.8"/>
<rect x="703.0" y="235.0" width="4.0" height="3.7"/>
<rect x="706.0" y="243.0" width="7.7" height="4.5"/>
<rect x="712.0" y="247.5" width="4.0" height="3.5"/>
<rect x="715.0" y="243.7" width="8.5" height="4.3"/>
<rect x="75.0" y="354.0" width="4.0" height="4.0"/>
<rect x="76.0" y="357.0" width="4.0" height="5.0"/>
<rect x="79.0" y="356.0" width="31.0" height="4.0"/>
<rect x="464.5" y="345.0" width="4.2" height="3.0"/>
<rect x="562.0" y="353.0" width="3.5" height="3.0"/>
<rect x="576.0" y="342.5" width="4.0" height="3.0"/>
<rect x="590.0" y="356.0" width="5.0" height="3.5"/>
<rect x="395.5" y="349.5" width="1.5" height="3.0"/>
</g>
<circle cx="215.6" cy="360.4" r="3.9" fill="#ffff00" stroke="#000" stroke-width="0.9"/>
<circle cx="636.6" cy="360.4" r="3.9" fill="#ffff00" stroke="#000" stroke-width="0.9"/>
<ellipse cx="242.5" cy="360.1" rx="3.6" ry="4" fill="#000"/>
<ellipse cx="714.4" cy="360.2" rx="3.6" ry="4" fill="#000"/>
<path d="M720.5 365 V354.5 M718.5 357 L720.5 354 L722.5 357" stroke="#000" stroke-width="1" fill="none"/>
<g opacity="0.999" font-family="Liberation Mono, monospace" font-size="9px" letter-spacing="-0.4px" style="font-family:'Liberation Mono',monospace">
<g stroke="#228b22" stroke-width="1" shape-rendering="crispEdges">
<line x1="28.5" y1="50" x2="28.5" y2="366"/>
<line x1="26" y1="365.5" x2="30" y2="365.5"/>
<line x1="26" y1="347.5" x2="30" y2="347.5"/>
<line x1="26" y1="329.5" x2="30" y2="329.5"/>
<line x1="26" y1="312.5" x2="30" y2="312.5"/>
<line x1="26" y1="294.5" x2="30" y2="294.5"/>
<line x1="26" y1="276.5" x2="30" y2="276.5"/>
<line x1="26" y1="259.5" x2="30" y2="259.5"/>
<line x1="26" y1="241.5" x2="30" y2="241.5"/>
<line x1="26" y1="223.5" x2="30" y2="223.5"/>
<line x1="26" y1="206.5" x2="30" y2="206.5"/>
<line x1="26" y1="188.5" x2="30" y2="188.5"/>
<line x1="26" y1="170.5" x2="30" y2="170.5"/>
<line x1="26" y1="153.5" x2="30" y2="153.5"/>
<line x1="26" y1="135.5" x2="30" y2="135.5"/>
<line x1="26" y1="117.5" x2="30" y2="117.5"/>
<line x1="26" y1="100.5" x2="30" y2="100.5"/>
<line x1="26" y1="82.5" x2="30" y2="82.5"/>
<line x1="26" y1="65.5" x2="30" y2="65.5"/>
</g>
<text x="23.27" y="368.0" fill="#228b22" stroke="#228b22" stroke-width="0.2" text-anchor="end"  font-size="8.5px" letter-spacing="0.27px" style="font-family:'Liberation Sans',sans-serif">1008</text>
<text x="23.27" y="350.3529411764706" fill="#228b22" stroke="#228b22" stroke-width="0.2" text-anchor="end"  font-size="8.5px" letter-spacing="0.27px" style="font-family:'Liberation Sans',sans-serif">1009</text>
<text x="23.27" y="332.70588235294116" fill="#228b22" stroke="#228b22" stroke-width="0.2" text-anchor="end"  font-size="8.5px" letter-spacing="0.27px" style="font-family:'Liberation Sans',sans-serif">1010</text>
<text x="23.27" y="315.05882352941177" fill="#228b22" stroke="#228b22" stroke-width="0.2" text-anchor="end"  font-size="8.5px" letter-spacing="0.27px" style="font-family:'Liberation Sans',sans-serif">1011</text>
<text x="23.27" y="297.4117647058823" fill="#228b22" stroke="#228b22" stroke-width="0.2" text-anchor="end"  font-size="8.5px" letter-spacing="0.27px" style="font-family:'Liberation Sans',sans-serif">1012</text>
<text x="23.27" y="279.7647058823529" fill="#228b22" stroke="#228b22" stroke-width="0.2" text-anchor="end"  font-size="8.5px" letter-spacing="0.27px" style="font-family:'Liberation Sans',sans-serif">1013</text>
<text x="23.27" y="262.11764705882354" fill="#228b22" stroke="#228b22" stroke-width="0.2" text-anchor="end"  font-size="8.5px" letter-spacing="0.27px" style="font-family:'Liberation Sans',sans-serif">1014</text>
<text x="23.27" y="244.47058823529412" fill="#228b22" stroke="#228b22" stroke-width="0.2" text-anchor="end"  font-size="8.5px" letter-spacing="0.27px" style="font-family:'Liberation Sans',sans-serif">1015</text>
<text x="23.27" y="226.8235294117647" fill="#228b22" stroke="#228b22" stroke-width="0.2" text-anchor="end"  font-size="8.5px" letter-spacing="0.27px" style="font-family:'Liberation Sans',sans-serif">1016</text>
<text x="23.27" y="209.1764705882353" fill="#228b22" stroke="#228b22" stroke-width="0.2" text-anchor="end"  font-size="8.5px" letter-spacing="0.27px" style="font-family:'Liberation Sans',sans-serif">1017</text>
<text x="23.27" y="191.52941176470588" fill="#228b22" stroke="#228b22" stroke-width="0.2" text-anchor="end"  font-size="8.5px" letter-spacing="0.27px" style="font-family:'Liberation Sans',sans-serif">1018</text>
<text x="23.27" y="173.88235294117646" fill="#228b22" stroke="#228b22" stroke-width="0.2" text-anchor="end"  font-size="8.5px" letter-spacing="0.27px" style="font-family:'Liberation Sans',sans-serif">1019</text>
<text x="23.27" y="156.23529411764707" fill="#228b22" stroke="#228b22" stroke-width="0.2" text-anchor="end"  font-size="8.5px" letter-spacing="0.27px" style="font-family:'Liberation Sans',sans-serif">1020</text>
<text x="23.27" y="138.58823529411765" fill="#228b22" stroke="#228b22" stroke-width="0.2" text-anchor="end"  font-size="8.5px" letter-spacing="0.27px" style="font-family:'Liberation Sans',sans-serif">1021</text>
<text x="23.27" y="120.94117647058823" fill="#228b22" stroke="#228b22" stroke-width="0.2" text-anchor="end"  font-size="8.5px" letter-spacing="0.27px" style="font-family:'Liberation Sans',sans-serif">1022</text>
<text x="23.27" y="103.29411764705884" fill="#228b22" stroke="#228b22" stroke-width="0.2" text-anchor="end"  font-size="8.5px" letter-spacing="0.27px" style="font-family:'Liberation Sans',sans-serif">1023</text>
<text x="23.27" y="85.64705882352939" fill="#228b22" stroke="#228b22" stroke-width="0.2" text-anchor="end"  font-size="8.5px" letter-spacing="0.27px" style="font-family:'Liberation Sans',sans-serif">1024</text>
<text x="23.27" y="68.0" fill="#228b22" stroke="#228b22" stroke-width="0.2" text-anchor="end"  font-size="8.5px" letter-spacing="0.27px" style="font-family:'Liberation Sans',sans-serif">1025</text>
<text x="5" y="57" fill="#228b22" stroke="#228b22" stroke-width="0.3" text-anchor="start" >hPa</text>
<g stroke="#9400d3" stroke-width="1" shape-rendering="crispEdges">
<line x1="50.5" y1="50" x2="50.5" y2="366"/>
<line x1="48" y1="365.5" x2="52" y2="365.5"/>
<line x1="48" y1="335.5" x2="52" y2="335.5"/>
<line x1="48" y1="305.5" x2="52" y2="305.5"/>
<line x1="48" y1="275.5" x2="52" y2="275.5"/>
<line x1="48" y1="245.5" x2="52" y2="245.5"/>
<line x1="48" y1="215.5" x2="52" y2="215.5"/>
<line x1="48" y1="185.5" x2="52" y2="185.5"/>
<line x1="48" y1="155.5" x2="52" y2="155.5"/>
<line x1="48" y1="125.5" x2="52" y2="125.5"/>
<line x1="48" y1="95.5" x2="52" y2="95.5"/>
<line x1="48" y1="65.5" x2="52" y2="65.5"/>
</g>
<text x="45.27" y="368" fill="#9400d3" stroke="#9400d3" stroke-width="0.2" text-anchor="end"  font-size="8.5px" letter-spacing="0.27px" style="font-family:'Liberation Sans',sans-serif">0</text>
<text x="45.27" y="338" fill="#9400d3" stroke="#9400d3" stroke-width="0.2" text-anchor="end"  font-size="8.5px" letter-spacing="0.27px" style="font-family:'Liberation Sans',sans-serif">10</text>
<text x="45.27" y="308" fill="#9400d3" stroke="#9400d3" stroke-width="0.2" text-anchor="end"  font-size="8.5px" letter-spacing="0.27px" style="font-family:'Liberation Sans',sans-serif">20</text>
<text x="45.27" y="278" fill="#9400d3" stroke="#9400d3" stroke-width="0.2" text-anchor="end"  font-size="8.5px" letter-spacing="0.27px" style="font-family:'Liberation Sans',sans-serif">30</text>
<text x="45.27" y="248" fill="#9400d3" stroke="#9400d3" stroke-width="0.2" text-anchor="end"  font-size="8.5px" letter-spacing="0.27px" style="font-family:'Liberation Sans',sans-serif">40</text>
<text x="45.27" y="218" fill="#9400d3" stroke="#9400d3" stroke-width="0.2" text-anchor="end"  font-size="8.5px" letter-spacing="0.27px" style="font-family:'Liberation Sans',sans-serif">50</text>
<text x="45.27" y="188" fill="#9400d3" stroke="#9400d3" stroke-width="0.2" text-anchor="end"  font-size="8.5px" letter-spacing="0.27px" style="font-family:'Liberation Sans',sans-serif">60</text>
<text x="45.27" y="158" fill="#9400d3" stroke="#9400d3" stroke-width="0.2" text-anchor="end"  font-size="8.5px" letter-spacing="0.27px" style="font-family:'Liberation Sans',sans-serif">70</text>
<text x="45.27" y="128" fill="#9400d3" stroke="#9400d3" stroke-width="0.2" text-anchor="end"  font-size="8.5px" letter-spacing="0.27px" style="font-family:'Liberation Sans',sans-serif">80</text>
<text x="45.27" y="98" fill="#9400d3" stroke="#9400d3" stroke-width="0.2" text-anchor="end"  font-size="8.5px" letter-spacing="0.27px" style="font-family:'Liberation Sans',sans-serif">90</text>
<text x="45.27" y="68" fill="#9400d3" stroke="#9400d3" stroke-width="0.2" text-anchor="end"  font-size="8.5px" letter-spacing="0.27px" style="font-family:'Liberation Sans',sans-serif">100</text>
<text x="40" y="57" fill="#9400d3" stroke="#9400d3" stroke-width="0.3" text-anchor="start" >%</text>
<g stroke="#ff0000" stroke-width="1" shape-rendering="crispEdges">
<line x1="70.5" y1="50" x2="70.5" y2="366"/>
<line x1="68" y1="365.5" x2="72" y2="365.5"/>
<line x1="68" y1="338.5" x2="72" y2="338.5"/>
<line x1="68" y1="312.5" x2="72" y2="312.5"/>
<line x1="68" y1="286.5" x2="72" y2="286.5"/>
<line x1="68" y1="273.5" x2="72" y2="273.5"/>
<line x1="68" y1="260.5" x2="72" y2="260.5"/>
<line x1="68" y1="234.5" x2="72" y2="234.5"/>
<line x1="68" y1="208.5" x2="72" y2="208.5"/>
<line x1="68" y1="182.5" x2="72" y2="182.5"/>
<line x1="68" y1="156.5" x2="72" y2="156.5"/>
<line x1="68" y1="130.5" x2="72" y2="130.5"/>
<line x1="68" y1="104.5" x2="72" y2="104.5"/>
<line x1="68" y1="78.5" x2="72" y2="78.5"/>
</g>
<text x="66.77" y="368.0" fill="#ff0000" stroke="#ff0000" stroke-width="0.2" text-anchor="end"  font-size="8.5px" letter-spacing="0.27px" style="font-family:'Liberation Sans',sans-serif">-7</text>
<text x="66.77" y="341.9130434782609" fill="#ff0000" stroke="#ff0000" stroke-width="0.2" text-anchor="end"  font-size="8.5px" letter-spacing="0.27px" style="font-family:'Liberation Sans',sans-serif">-5</text>
<text x="66.77" y="315.82608695652175" fill="#ff0000" stroke="#ff0000" stroke-width="0.2" text-anchor="end"  font-size="8.5px" letter-spacing="0.27px" style="font-family:'Liberation Sans',sans-serif">-3</text>
<text x="66.77" y="289.7391304347826" fill="#ff0000" stroke="#ff0000" stroke-width="0.2" text-anchor="end"  font-size="8.5px" letter-spacing="0.27px" style="font-family:'Liberation Sans',sans-serif">-1</text>
<text x="66.77" y="276.69565217391306" fill="#ff0000" stroke="#ff0000" stroke-width="0.2" text-anchor="end"  font-size="8.5px" letter-spacing="0.27px" style="font-family:'Liberation Sans',sans-serif">0</text>
<text x="66.77" y="263.6521739130435" fill="#ff0000" stroke="#ff0000" stroke-width="0.2" text-anchor="end"  font-size="8.5px" letter-spacing="0.27px" style="font-family:'Liberation Sans',sans-serif">1</text>
<text x="66.77" y="237.56521739130434" fill="#ff0000" stroke="#ff0000" stroke-width="0.2" text-anchor="end"  font-size="8.5px" letter-spacing="0.27px" style="font-family:'Liberation Sans',sans-serif">3</text>
<text x="66.77" y="211.47826086956522" fill="#ff0000" stroke="#ff0000" stroke-width="0.2" text-anchor="end"  font-size="8.5px" letter-spacing="0.27px" style="font-family:'Liberation Sans',sans-serif">5</text>
<text x="66.77" y="185.3913043478261" fill="#ff0000" stroke="#ff0000" stroke-width="0.2" text-anchor="end"  font-size="8.5px" letter-spacing="0.27px" style="font-family:'Liberation Sans',sans-serif">7</text>
<text x="66.77" y="159.30434782608697" fill="#ff0000" stroke="#ff0000" stroke-width="0.2" text-anchor="end"  font-size="8.5px" letter-spacing="0.27px" style="font-family:'Liberation Sans',sans-serif">9</text>
<text x="66.77" y="133.2173913043478" fill="#ff0000" stroke="#ff0000" stroke-width="0.2" text-anchor="end"  font-size="8.5px" letter-spacing="0.27px" style="font-family:'Liberation Sans',sans-serif">11</text>
<text x="66.77" y="107.13043478260869" fill="#ff0000" stroke="#ff0000" stroke-width="0.2" text-anchor="end"  font-size="8.5px" letter-spacing="0.27px" style="font-family:'Liberation Sans',sans-serif">13</text>
<text x="66.77" y="81.04347826086956" fill="#ff0000" stroke="#ff0000" stroke-width="0.2" text-anchor="end"  font-size="8.5px" letter-spacing="0.27px" style="font-family:'Liberation Sans',sans-serif">15</text>
<text x="57" y="57" fill="#ff0000" stroke="#ff0000" stroke-width="0.3" text-anchor="start" >°C</text>
<g stroke="#696969" stroke-width="1" shape-rendering="crispEdges"><line x1="723.5" y1="50" x2="723.5" y2="366"/></g>
<text x="725.5" y="330.5" fill="#696969" stroke="#696969" stroke-width="0.2" text-anchor="start"  font-size="8.5px" letter-spacing="0.27px" style="font-family:'Liberation Sans',sans-serif">45</text>
<text x="725.5" y="338.5" fill="#696969" stroke="#696969" stroke-width="0.3" text-anchor="start" >NE</text>
<text x="725.5" y="293.0" fill="#696969" stroke="#696969" stroke-width="0.2" text-anchor="start"  font-size="8.5px" letter-spacing="0.27px" style="font-family:'Liberation Sans',sans-serif">90</text>
<text x="728.0" y="301.0" fill="#696969" stroke="#696969" stroke-width="0.3" text-anchor="start" >E</text>
<text x="725.5" y="255.5" fill="#696969" stroke="#696969" stroke-width="0.2" text-anchor="start"  font-size="8.5px" letter-spacing="0.27px" style="font-family:'Liberation Sans',sans-serif">135</text>
<text x="728.0" y="263.5" fill="#696969" stroke="#696969" stroke-width="0.3" text-anchor="start" >SE</text>
<text x="725.5" y="218.0" fill="#696969" stroke="#696969" stroke-width="0.2" text-anchor="start"  font-size="8.5px" letter-spacing="0.27px" style="font-family:'Liberation Sans',sans-serif">180</text>
<text x="730.5" y="226.0" fill="#696969" stroke="#696969" stroke-width="0.3" text-anchor="start" >S</text>
<text x="725.5" y="180.5" fill="#696969" stroke="#696969" stroke-width="0.2" text-anchor="start"  font-size="8.5px" letter-spacing="0.27px" style="font-family:'Liberation Sans',sans-serif">225</text>
<text x="728.0" y="188.5" fill="#696969" stroke="#696969" stroke-width="0.3" text-anchor="start" >SW</text>
<text x="725.5" y="143.0" fill="#696969" stroke="#696969" stroke-width="0.2" text-anchor="start"  font-size="8.5px" letter-spacing="0.27px" style="font-family:'Liberation Sans',sans-serif">270</text>
<text x="730.5" y="151.0" fill="#696969" stroke="#696969" stroke-width="0.3" text-anchor="start" >W</text>
<text x="725.5" y="105.5" fill="#696969" stroke="#696969" stroke-width="0.2" text-anchor="start"  font-size="8.5px" letter-spacing="0.27px" style="font-family:'Liberation Sans',sans-serif">315</text>
<text x="728.0" y="113.5" fill="#696969" stroke="#696969" stroke-width="0.3" text-anchor="start" >NW</text>
<text x="725.5" y="68.0" fill="#696969" stroke="#696969" stroke-width="0.2" text-anchor="start"  font-size="8.5px" letter-spacing="0.27px" style="font-family:'Liberation Sans',sans-serif">360</text>
<text x="730.5" y="76.0" fill="#696969" stroke="#696969" stroke-width="0.3" text-anchor="start" >N</text>
<text x="728" y="54" fill="#696969" stroke="#696969" stroke-width="0.3" text-anchor="start" >°</text>
<g stroke="#000" stroke-width="1" shape-rendering="crispEdges">
<line x1="743.5" y1="50" x2="743.5" y2="366"/>
<line x1="741" y1="365.5" x2="745" y2="365.5"/>
<line x1="741" y1="350.5" x2="745" y2="350.5"/>
<line x1="741" y1="335.5" x2="745" y2="335.5"/>
<line x1="741" y1="320.5" x2="745" y2="320.5"/>
<line x1="741" y1="305.5" x2="745" y2="305.5"/>
<line x1="741" y1="290.5" x2="745" y2="290.5"/>
<line x1="741" y1="275.5" x2="745" y2="275.5"/>
<line x1="741" y1="260.5" x2="745" y2="260.5"/>
<line x1="741" y1="245.5" x2="745" y2="245.5"/>
<line x1="741" y1="230.5" x2="745" y2="230.5"/>
<line x1="741" y1="215.5" x2="745" y2="215.5"/>
</g>
<text x="746.5" y="368" fill="#000" stroke="#000" stroke-width="0.2" text-anchor="start"  font-size="8.5px" letter-spacing="0.27px" style="font-family:'Liberation Sans',sans-serif">0</text>
<text x="746.5" y="353" fill="#000" stroke="#000" stroke-width="0.2" text-anchor="start"  font-size="8.5px" letter-spacing="0.27px" style="font-family:'Liberation Sans',sans-serif">1</text>
<text x="746.5" y="338" fill="#000" stroke="#000" stroke-width="0.2" text-anchor="start"  font-size="8.5px" letter-spacing="0.27px" style="font-family:'Liberation Sans',sans-serif">2</text>
<text x="746.5" y="323" fill="#000" stroke="#000" stroke-width="0.2" text-anchor="start"  font-size="8.5px" letter-spacing="0.27px" style="font-family:'Liberation Sans',sans-serif">3</text>
<text x="746.5" y="308" fill="#000" stroke="#000" stroke-width="0.2" text-anchor="start"  font-size="8.5px" letter-spacing="0.27px" style="font-family:'Liberation Sans',sans-serif">4</text>
<text x="746.5" y="293" fill="#000" stroke="#000" stroke-width="0.2" text-anchor="start"  font-size="8.5px" letter-spacing="0.27px" style="font-family:'Liberation Sans',sans-serif">5</text>
<text x="746.5" y="278" fill="#000" stroke="#000" stroke-width="0.2" text-anchor="start"  font-size="8.5px" letter-spacing="0.27px" style="font-family:'Liberation Sans',sans-serif">6</text>
<text x="746.5" y="263" fill="#000" stroke="#000" stroke-width="0.2" text-anchor="start"  font-size="8.5px" letter-spacing="0.27px" style="font-family:'Liberation Sans',sans-serif">7</text>
<text x="746.5" y="248" fill="#000" stroke="#000" stroke-width="0.2" text-anchor="start"  font-size="8.5px" letter-spacing="0.27px" style="font-family:'Liberation Sans',sans-serif">8</text>
<text x="746.5" y="233" fill="#000" stroke="#000" stroke-width="0.2" text-anchor="start"  font-size="8.5px" letter-spacing="0.27px" style="font-family:'Liberation Sans',sans-serif">9</text>
<text x="746.5" y="218" fill="#000" stroke="#000" stroke-width="0.2" text-anchor="start"  font-size="8.5px" letter-spacing="0.27px" style="font-family:'Liberation Sans',sans-serif">10</text>
<text x="745" y="57" fill="#000" stroke="#000" stroke-width="0.3" text-anchor="start" >m/s</text>
<g stroke="#00b4f8" stroke-width="1" shape-rendering="crispEdges">
<line x1="760.5" y1="50" x2="760.5" y2="366"/>
<line x1="758" y1="365.5" x2="762" y2="365.5"/>
<line x1="758" y1="290.5" x2="762" y2="290.5"/>
<line x1="758" y1="215.5" x2="762" y2="215.5"/>
<line x1="758" y1="140.5" x2="762" y2="140.5"/>
<line x1="758" y1="65.5" x2="762" y2="65.5"/>
</g>
<text x="763" y="368" fill="#00b4f8" stroke="#00b4f8" stroke-width="0.2" text-anchor="start"  font-size="8.5px" letter-spacing="0.27px" style="font-family:'Liberation Sans',sans-serif">0</text>
<text x="763" y="293" fill="#00b4f8" stroke="#00b4f8" stroke-width="0.2" text-anchor="start"  font-size="8.5px" letter-spacing="0.27px" style="font-family:'Liberation Sans',sans-serif">1</text>
<text x="763" y="218" fill="#00b4f8" stroke="#00b4f8" stroke-width="0.2" text-anchor="start"  font-size="8.5px" letter-spacing="0.27px" style="font-family:'Liberation Sans',sans-serif">2</text>
<text x="763" y="143" fill="#00b4f8" stroke="#00b4f8" stroke-width="0.2" text-anchor="start"  font-size="8.5px" letter-spacing="0.27px" style="font-family:'Liberation Sans',sans-serif">3</text>
<text x="763" y="68" fill="#00b4f8" stroke="#00b4f8" stroke-width="0.2" text-anchor="start"  font-size="8.5px" letter-spacing="0.27px" style="font-family:'Liberation Sans',sans-serif">4</text>
<text x="762" y="57" fill="#00b4f8" stroke="#00b4f8" stroke-width="0.3" text-anchor="start" >mm</text>
<g stroke="#ff7f00" stroke-width="1" shape-rendering="crispEdges">
<line x1="775.5" y1="50" x2="775.5" y2="366"/>
<line x1="773" y1="365.5" x2="777" y2="365.5"/>
<line x1="773" y1="350.5" x2="777" y2="350.5"/>
<line x1="773" y1="335.5" x2="777" y2="335.5"/>
<line x1="773" y1="320.5" x2="777" y2="320.5"/>
<line x1="773" y1="305.5" x2="777" y2="305.5"/>
<line x1="773" y1="290.5" x2="777" y2="290.5"/>
<line x1="773" y1="275.5" x2="777" y2="275.5"/>
<line x1="773" y1="260.5" x2="777" y2="260.5"/>
<line x1="773" y1="245.5" x2="777" y2="245.5"/>
<line x1="773" y1="230.5" x2="777" y2="230.5"/>
</g>
<text x="778.5" y="368" fill="#ff7f00" stroke="#ff7f00" stroke-width="0.2" text-anchor="start"  font-size="8.5px" letter-spacing="0.27px" style="font-family:'Liberation Sans',sans-serif">0</text>
<text x="778.5" y="353" fill="#ff7f00" stroke="#ff7f00" stroke-width="0.2" text-anchor="start"  font-size="8.5px" letter-spacing="0.27px" style="font-family:'Liberation Sans',sans-serif">121</text>
<text x="778.5" y="338" fill="#ff7f00" stroke="#ff7f00" stroke-width="0.2" text-anchor="start"  font-size="8.5px" letter-spacing="0.27px" style="font-family:'Liberation Sans',sans-serif">242</text>
<text x="778.5" y="323" fill="#ff7f00" stroke="#ff7f00" stroke-width="0.2" text-anchor="start"  font-size="8.5px" letter-spacing="0.27px" style="font-family:'Liberation Sans',sans-serif">363</text>
<text x="778.5" y="308" fill="#ff7f00" stroke="#ff7f00" stroke-width="0.2" text-anchor="start"  font-size="8.5px" letter-spacing="0.27px" style="font-family:'Liberation Sans',sans-serif">484</text>
<text x="778.5" y="293" fill="#ff7f00" stroke="#ff7f00" stroke-width="0.2" text-anchor="start"  font-size="8.5px" letter-spacing="0.27px" style="font-family:'Liberation Sans',sans-serif">605</text>
<text x="778.5" y="278" fill="#ff7f00" stroke="#ff7f00" stroke-width="0.2" text-anchor="start"  font-size="8.5px" letter-spacing="0.27px" style="font-family:'Liberation Sans',sans-serif">726</text>
<text x="778.5" y="263" fill="#ff7f00" stroke="#ff7f00" stroke-width="0.2" text-anchor="start"  font-size="8.5px" letter-spacing="0.27px" style="font-family:'Liberation Sans',sans-serif">847</text>
<text x="778.5" y="248" fill="#ff7f00" stroke="#ff7f00" stroke-width="0.2" text-anchor="start"  font-size="8.5px" letter-spacing="0.27px" style="font-family:'Liberation Sans',sans-serif">968</text>
<text x="778.5" y="233" fill="#ff7f00" stroke="#ff7f00" stroke-width="0.2" text-anchor="start"  font-size="8.5px" letter-spacing="0.27px" style="font-family:'Liberation Sans',sans-serif">1089</text>
<text x="778" y="57" fill="#ff7f00" stroke="#ff7f00" stroke-width="0.3" text-anchor="start" >W</text>
<text transform="translate(72.5,397) rotate(-90)" x="0 5 11.2 15 20" fill="#000" stroke="#000" stroke-width="0.3" letter-spacing="0" style="font-family:'Liberation Sans',sans-serif">00:00</text>
<text transform="translate(86.5,397) rotate(-90)" x="0 5 11.2 15 20" fill="#000" stroke="#000" stroke-width="0.3" letter-spacing="0" style="font-family:'Liberation Sans',sans-serif">00:30</text>
<text transform="translate(99.5,397) rotate(-90)" x="0 5 11.2 15 20" fill="#000" stroke="#000" stroke-width="0.3" letter-spacing="0" style="font-family:'Liberation Sans',sans-serif">01:00</text>
<text transform="translate(113.5,397) rotate(-90)" x="0 5 11.2 15 20" fill="#000" stroke="#000" stroke-width="0.3" letter-spacing="0" style="font-family:'Liberation Sans',sans-serif">01:30</text>
<text transform="translate(127.5,397) rotate(-90)" x="0 5 11.2 15 20" fill="#000" stroke="#000" stroke-width="0.3" letter-spacing="0" style="font-family:'Liberation Sans',sans-serif">02:00</text>
<text transform="translate(140.5,397) rotate(-90)" x="0 5 11.2 15 20" fill="#000" stroke="#000" stroke-width="0.3" letter-spacing="0" style="font-family:'Liberation Sans',sans-serif">02:30</text>
<text transform="translate(154.5,397) rotate(-90)" x="0 5 11.2 15 20" fill="#000" stroke="#000" stroke-width="0.3" letter-spacing="0" style="font-family:'Liberation Sans',sans-serif">03:00</text>
<text transform="translate(168.5,397) rotate(-90)" x="0 5 11.2 15 20" fill="#000" stroke="#000" stroke-width="0.3" letter-spacing="0" style="font-family:'Liberation Sans',sans-serif">03:30</text>
<text transform="translate(181.5,397) rotate(-90)" x="0 5 11.2 15 20" fill="#000" stroke="#000" stroke-width="0.3" letter-spacing="0" style="font-family:'Liberation Sans',sans-serif">04:00</text>
<text transform="translate(195.5,397) rotate(-90)" x="0 5 11.2 15 20" fill="#000" stroke="#000" stroke-width="0.3" letter-spacing="0" style="font-family:'Liberation Sans',sans-serif">04:30</text>
<text transform="translate(209.5,397) rotate(-90)" x="0 5 11.2 15 20" fill="#000" stroke="#000" stroke-width="0.3" letter-spacing="0" style="font-family:'Liberation Sans',sans-serif">05:00</text>
<text transform="translate(222.5,397) rotate(-90)" x="0 5 11.2 15 20" fill="#000" stroke="#000" stroke-width="0.3" letter-spacing="0" style="font-family:'Liberation Sans',sans-serif">05:30</text>
<text transform="translate(236.5,397) rotate(-90)" x="0 5 11.2 15 20" fill="#000" stroke="#000" stroke-width="0.3" letter-spacing="0" style="font-family:'Liberation Sans',sans-serif">06:00</text>
<text transform="translate(249.5,397) rotate(-90)" x="0 5 11.2 15 20" fill="#000" stroke="#000" stroke-width="0.3" letter-spacing="0" style="font-family:'Liberation Sans',sans-serif">06:30</text>
<text transform="translate(263.5,397) rotate(-90)" x="0 5 11.2 15 20" fill="#000" stroke="#000" stroke-width="0.3" letter-spacing="0" style="font-family:'Liberation Sans',sans-serif">07:00</text>
<text transform="translate(277.5,397) rotate(-90)" x="0 5 11.2 15 20" fill="#000" stroke="#000" stroke-width="0.3" letter-spacing="0" style="font-family:'Liberation Sans',sans-serif">07:30</text>
<text transform="translate(290.5,397) rotate(-90)" x="0 5 11.2 15 20" fill="#000" stroke="#000" stroke-width="0.3" letter-spacing="0" style="font-family:'Liberation Sans',sans-serif">08:00</text>
<text transform="translate(304.5,397) rotate(-90)" x="0 5 11.2 15 20" fill="#000" stroke="#000" stroke-width="0.3" letter-spacing="0" style="font-family:'Liberation Sans',sans-serif">08:30</text>
<text transform="translate(318.5,397) rotate(-90)" x="0 5 11.2 15 20" fill="#000" stroke="#000" stroke-width="0.3" letter-spacing="0" style="font-family:'Liberation Sans',sans-serif">09:00</text>
<text transform="translate(331.5,397) rotate(-90)" x="0 5 11.2 15 20" fill="#000" stroke="#000" stroke-width="0.3" letter-spacing="0" style="font-family:'Liberation Sans',sans-serif">09:30</text>
<text transform="translate(345.5,397) rotate(-90)" x="0 5 11.2 15 20" fill="#000" stroke="#000" stroke-width="0.3" letter-spacing="0" style="font-family:'Liberation Sans',sans-serif">10:00</text>
<text transform="translate(359.5,397) rotate(-90)" x="0 5 11.2 15 20" fill="#000" stroke="#000" stroke-width="0.3" letter-spacing="0" style="font-family:'Liberation Sans',sans-serif">10:30</text>
<text transform="translate(372.5,397) rotate(-90)" x="0 5 11.2 15 20" fill="#000" stroke="#000" stroke-width="0.3" letter-spacing="0" style="font-family:'Liberation Sans',sans-serif">11:00</text>
<text transform="translate(386.5,397) rotate(-90)" x="0 5 11.2 15 20" fill="#000" stroke="#000" stroke-width="0.3" letter-spacing="0" style="font-family:'Liberation Sans',sans-serif">11:30</text>
<text transform="translate(400.5,397) rotate(-90)" x="0 5 11.2 15 20" fill="#000" stroke="#000" stroke-width="0.3" letter-spacing="0" style="font-family:'Liberation Sans',sans-serif">12:00</text>
<text transform="translate(413.5,397) rotate(-90)" x="0 5 11.2 15 20" fill="#000" stroke="#000" stroke-width="0.3" letter-spacing="0" style="font-family:'Liberation Sans',sans-serif">12:30</text>
<text transform="translate(427.5,397) rotate(-90)" x="0 5 11.2 15 20" fill="#000" stroke="#000" stroke-width="0.3" letter-spacing="0" style="font-family:'Liberation Sans',sans-serif">13:00</text>
<text transform="translate(441.5,397) rotate(-90)" x="0 5 11.2 15 20" fill="#000" stroke="#000" stroke-width="0.3" letter-spacing="0" style="font-family:'Liberation Sans',sans-serif">13:30</text>
<text transform="translate(454.5,397) rotate(-90)" x="0 5 11.2 15 20" fill="#000" stroke="#000" stroke-width="0.3" letter-spacing="0" style="font-family:'Liberation Sans',sans-serif">14:00</text>
<text transform="translate(468.5,397) rotate(-90)" x="0 5 11.2 15 20" fill="#000" stroke="#000" stroke-width="0.3" letter-spacing="0" style="font-family:'Liberation Sans',sans-serif">14:30</text>
<text transform="translate(482.5,397) rotate(-90)" x="0 5 11.2 15 20" fill="#000" stroke="#000" stroke-width="0.3" letter-spacing="0" style="font-family:'Liberation Sans',sans-serif">15:00</text>
<text transform="translate(495.5,397) rotate(-90)" x="0 5 11.2 15 20" fill="#000" stroke="#000" stroke-width="0.3" letter-spacing="0" style="font-family:'Liberation Sans',sans-serif">15:30</text>
<text transform="translate(509.5,397) rotate(-90)" x="0 5 11.2 15 20" fill="#000" stroke="#000" stroke-width="0.3" letter-spacing="0" style="font-family:'Liberation Sans',sans-serif">16:00</text>
<text transform="translate(522.5,397) rotate(-90)" x="0 5 11.2 15 20" fill="#000" stroke="#000" stroke-width="0.3" letter-spacing="0" style="font-family:'Liberation Sans',sans-serif">16:30</text>
<text transform="translate(536.5,397) rotate(-90)" x="0 5 11.2 15 20" fill="#000" stroke="#000" stroke-width="0.3" letter-spacing="0" style="font-family:'Liberation Sans',sans-serif">17:00</text>
<text transform="translate(550.5,397) rotate(-90)" x="0 5 11.2 15 20" fill="#000" stroke="#000" stroke-width="0.3" letter-spacing="0" style="font-family:'Liberation Sans',sans-serif">17:30</text>
<text transform="translate(563.5,397) rotate(-90)" x="0 5 11.2 15 20" fill="#000" stroke="#000" stroke-width="0.3" letter-spacing="0" style="font-family:'Liberation Sans',sans-serif">18:00</text>
<text transform="translate(577.5,397) rotate(-90)" x="0 5 11.2 15 20" fill="#000" stroke="#000" stroke-width="0.3" letter-spacing="0" style="font-family:'Liberation Sans',sans-serif">18:30</text>
<text transform="translate(591.5,397) rotate(-90)" x="0 5 11.2 15 20" fill="#000" stroke="#000" stroke-width="0.3" letter-spacing="0" style="font-family:'Liberation Sans',sans-serif">19:00</text>
<text transform="translate(604.5,397) rotate(-90)" x="0 5 11.2 15 20" fill="#000" stroke="#000" stroke-width="0.3" letter-spacing="0" style="font-family:'Liberation Sans',sans-serif">19:30</text>
<text transform="translate(618.5,397) rotate(-90)" x="0 5 11.2 15 20" fill="#000" stroke="#000" stroke-width="0.3" letter-spacing="0" style="font-family:'Liberation Sans',sans-serif">20:00</text>
<text transform="translate(632.5,397) rotate(-90)" x="0 5 11.2 15 20" fill="#000" stroke="#000" stroke-width="0.3" letter-spacing="0" style="font-family:'Liberation Sans',sans-serif">20:30</text>
<text transform="translate(645.5,397) rotate(-90)" x="0 5 11.2 15 20" fill="#000" stroke="#000" stroke-width="0.3" letter-spacing="0" style="font-family:'Liberation Sans',sans-serif">21:00</text>
<text transform="translate(659.5,397) rotate(-90)" x="0 5 11.2 15 20" fill="#000" stroke="#000" stroke-width="0.3" letter-spacing="0" style="font-family:'Liberation Sans',sans-serif">21:30</text>
<text transform="translate(673.5,397) rotate(-90)" x="0 5 11.2 15 20" fill="#000" stroke="#000" stroke-width="0.3" letter-spacing="0" style="font-family:'Liberation Sans',sans-serif">22:00</text>
<text transform="translate(686.5,397) rotate(-90)" x="0 5 11.2 15 20" fill="#000" stroke="#000" stroke-width="0.3" letter-spacing="0" style="font-family:'Liberation Sans',sans-serif">22:30</text>
<text transform="translate(700.5,397) rotate(-90)" x="0 5 11.2 15 20" fill="#000" stroke="#000" stroke-width="0.3" letter-spacing="0" style="font-family:'Liberation Sans',sans-serif">23:00</text>
<text transform="translate(714.5,397) rotate(-90)" x="0 5 11.2 15 20" fill="#000" stroke="#000" stroke-width="0.3" letter-spacing="0" style="font-family:'Liberation Sans',sans-serif">23:30</text>
<text x="732.5" y="377" fill="#000" stroke="#000" stroke-width="0.3" text-anchor="start" font-style="italic">čas</text>
<rect x="10" y="9" width="11" height="2" fill="#ff0000" shape-rendering="crispEdges"/>
<text x="25" y="12" fill="#000" stroke="#000" stroke-width="0.3" text-anchor="start" >Teplota</text>
<rect x="70" y="9" width="11" height="2" fill="#ff00ff" shape-rendering="crispEdges"/>
<text x="85" y="12" fill="#000" stroke="#000" stroke-width="0.3" text-anchor="start" >Přízemní teplota</text>
<rect x="175" y="9" width="11" height="2" fill="#9400d3" shape-rendering="crispEdges"/>
<text x="190" y="12" fill="#000" stroke="#000" stroke-width="0.3" text-anchor="start" >Vlhkost</text>
<rect x="235" y="9" width="11" height="2" fill="#228b22" shape-rendering="crispEdges"/>
<text x="250" y="12" fill="#000" stroke="#000" stroke-width="0.3" text-anchor="start" >Tlak</text>
<rect x="280" y="9" width="11" height="2" fill="#00b4f8" shape-rendering="crispEdges"/>
<text x="295" y="12" fill="#000" stroke="#000" stroke-width="0.3" text-anchor="start" >Srážky</text>
<rect x="335" y="9" width="11" height="2" fill="#000" shape-rendering="crispEdges"/>
<text x="350" y="12" fill="#000" stroke="#000" stroke-width="0.3" text-anchor="start" >Rychlost větru</text>
<rect x="430" y="9" width="11" height="2" fill="#0000cd" shape-rendering="crispEdges"/>
<text x="445" y="12" fill="#000" stroke="#000" stroke-width="0.3" text-anchor="start" >Náraz větru</text>
<rect x="510" y="9" width="11" height="2" fill="#696969" shape-rendering="crispEdges"/>
<text x="525" y="12" fill="#000" stroke="#000" stroke-width="0.3" text-anchor="start" >Směr větru</text>
<text x="80" y="27" fill="#000" stroke="#000" stroke-width="0.3" text-anchor="start" >max</text>
<text x="100" y="27" fill="#ff0000" stroke="#ff0000" stroke-width="0.3" text-anchor="start" >11.9°C</text>
<text x="140" y="27" fill="#ff0000" stroke="#ff0000" stroke-width="0.3" text-anchor="start" >91%</text>
<text x="165" y="27" fill="#ff0000" stroke="#ff0000" stroke-width="0.3" text-anchor="start" >1018.7hPa</text>
<text x="225" y="27" fill="#00b4f8" stroke="#00b4f8" stroke-width="0.3" text-anchor="start" >1.8mm</text>
<text x="80" y="37" fill="#000" stroke="#000" stroke-width="0.3" text-anchor="start" >min</text>
<text x="105" y="37" fill="#0000cd" stroke="#0000cd" stroke-width="0.3" text-anchor="start" >3.3°C</text>
<text x="140" y="37" fill="#0000cd" stroke="#0000cd" stroke-width="0.3" text-anchor="start" >51%</text>
<text x="165" y="37" fill="#0000cd" stroke="#0000cd" stroke-width="0.3" text-anchor="start" >1015.3hPa</text>
<text x="80" y="47" fill="#000" stroke="#000" stroke-width="0.3" text-anchor="start" >avg</text>
<text x="105" y="47" fill="#000" stroke="#000" stroke-width="0.3" text-anchor="start" >6.1°C</text>
<text x="472.5" y="27" fill="#000" stroke="#000" stroke-width="0.3" text-anchor="start" >WS:5.4m/s</text>
<text x="542.5" y="27" fill="#000" stroke="#000" stroke-width="0.3" text-anchor="start" >WG:9m/s</text>
<text x="437.5" y="37" fill="#000" stroke="#000" stroke-width="0.3" text-anchor="start" >Slunce</text>
<text x="472.5" y="37" fill="#000" stroke="#000" stroke-width="0.3" text-anchor="start" >Východ:05:22</text>
<text x="542.5" y="37" fill="#000" stroke="#000" stroke-width="0.3" text-anchor="start" >Západ:20:45</text>
<text x="437.5" y="47" fill="#000" stroke="#000" stroke-width="0.3" text-anchor="start" >Měsíc</text>
<text x="472.5" y="47" fill="#000" stroke="#000" stroke-width="0.3" text-anchor="start" >Východ:23:49</text>
<text x="542.5" y="47" fill="#000" stroke="#000" stroke-width="0.3" text-anchor="start" >Západ:6:06</text>
</g>
<text opacity="0.999" x="367.5" y="61" font-size="12px" font-weight="bold" letter-spacing="-0.2px" fill="#000" stroke="#000" stroke-width="0.35" style="font-family:'Liberation Mono',monospace">16.5.2025</text>
</svg>
</body></html>
